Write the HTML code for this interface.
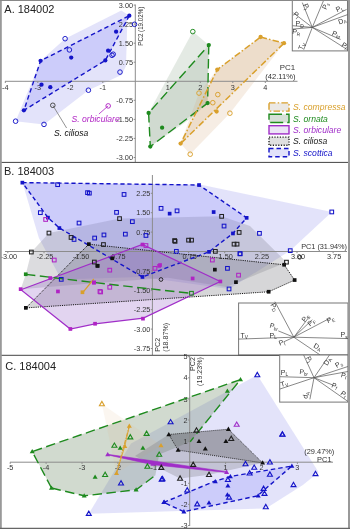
<!DOCTYPE html>
<html><head><meta charset="utf-8"><style>
html,body{margin:0;padding:0;background:#fff;width:350px;height:529px;overflow:hidden}
svg{display:block;will-change:transform}
text{font-family:"Liberation Sans",sans-serif}
</style></head><body>
<svg width="350" height="529" viewBox="0 0 350 529">
<rect x="0" y="0" width="350" height="529" fill="#fff"/>
<polygon points="121.3,10.5 127.5,14.5 126.0,66.0 121.5,75.0 88.4,90.2 44.0,124.4 15.6,121.2 40.6,60.8 65.1,38.7" fill="rgb(140,140,235)" stroke="none" stroke-width="1.2" fill-opacity="0.24" />
<polygon points="129.3,15.7 105.3,60.4 23.9,110.3 40.6,60.8" fill="rgb(135,135,250)" stroke="none" stroke-width="1.2" fill-opacity="0.25" />
<polygon points="192.8,31.6 208.8,45.1 207.6,103.1 193.0,117.0 150.3,146.6 148.6,113.0" fill="rgb(142,167,142)" stroke="none" stroke-width="1.2" fill-opacity="0.24" />
<polygon points="208.8,45.1 207.6,103.1 150.3,146.6 148.6,113.0" fill="rgb(130,156,130)" stroke="none" stroke-width="1.2" fill-opacity="0.2" />
<polygon points="260.6,37.0 284.0,43.2 229.9,113.2 190.2,154.2 180.6,143.6 199.0,93.1 217.3,69.6" fill="rgb(215,175,130)" stroke="none" stroke-width="1.2" fill-opacity="0.22" />
<polygon points="260.6,37.0 284.0,43.2 180.6,143.6 217.3,69.6" fill="rgb(205,165,115)" stroke="none" stroke-width="1.2" fill-opacity="0.22" />
<line x1="5.0" y1="81.3" x2="297.5" y2="81.3" stroke="#8c8c8c" stroke-width="1"/>
<line x1="135.3" y1="4.5" x2="135.3" y2="162.0" stroke="#8c8c8c" stroke-width="1"/>
<line x1="5.3" y1="81.3" x2="5.3" y2="83.0" stroke="#8c8c8c" stroke-width="1"/>
<text x="5.3" y="89.7" font-size="7.3" fill="#333" text-anchor="middle" >-4</text>
<line x1="37.8" y1="81.3" x2="37.8" y2="83.0" stroke="#8c8c8c" stroke-width="1"/>
<text x="37.8" y="89.7" font-size="7.3" fill="#333" text-anchor="middle" >-3</text>
<line x1="70.3" y1="81.3" x2="70.3" y2="83.0" stroke="#8c8c8c" stroke-width="1"/>
<text x="70.3" y="89.7" font-size="7.3" fill="#333" text-anchor="middle" >-2</text>
<line x1="102.8" y1="81.3" x2="102.8" y2="83.0" stroke="#8c8c8c" stroke-width="1"/>
<text x="102.8" y="89.7" font-size="7.3" fill="#333" text-anchor="middle" >-1</text>
<line x1="167.8" y1="81.3" x2="167.8" y2="83.0" stroke="#8c8c8c" stroke-width="1"/>
<text x="167.8" y="89.7" font-size="7.3" fill="#333" text-anchor="middle" >1</text>
<line x1="200.3" y1="81.3" x2="200.3" y2="83.0" stroke="#8c8c8c" stroke-width="1"/>
<text x="200.3" y="89.7" font-size="7.3" fill="#333" text-anchor="middle" >2</text>
<line x1="232.8" y1="81.3" x2="232.8" y2="83.0" stroke="#8c8c8c" stroke-width="1"/>
<text x="232.8" y="89.7" font-size="7.3" fill="#333" text-anchor="middle" >3</text>
<line x1="265.3" y1="81.3" x2="265.3" y2="83.0" stroke="#8c8c8c" stroke-width="1"/>
<text x="265.3" y="89.7" font-size="7.3" fill="#333" text-anchor="middle" >4</text>
<line x1="133.7" y1="5.1" x2="135.3" y2="5.1" stroke="#8c8c8c" stroke-width="1"/>
<text x="133.0" y="7.7" font-size="7.3" fill="#333" text-anchor="end" >3.00</text>
<line x1="133.7" y1="24.1" x2="135.3" y2="24.1" stroke="#8c8c8c" stroke-width="1"/>
<text x="133.0" y="26.7" font-size="7.3" fill="#333" text-anchor="end" >2.25</text>
<line x1="133.7" y1="43.2" x2="135.3" y2="43.2" stroke="#8c8c8c" stroke-width="1"/>
<text x="133.0" y="45.8" font-size="7.3" fill="#333" text-anchor="end" >1.50</text>
<line x1="133.7" y1="62.2" x2="135.3" y2="62.2" stroke="#8c8c8c" stroke-width="1"/>
<text x="133.0" y="64.8" font-size="7.3" fill="#333" text-anchor="end" >0.75</text>
<line x1="133.7" y1="100.3" x2="135.3" y2="100.3" stroke="#8c8c8c" stroke-width="1"/>
<text x="133.0" y="102.9" font-size="7.3" fill="#333" text-anchor="end" >-0.75</text>
<line x1="133.7" y1="119.4" x2="135.3" y2="119.4" stroke="#8c8c8c" stroke-width="1"/>
<text x="133.0" y="122.0" font-size="7.3" fill="#333" text-anchor="end" >-1.50</text>
<line x1="133.7" y1="138.4" x2="135.3" y2="138.4" stroke="#8c8c8c" stroke-width="1"/>
<text x="133.0" y="141.0" font-size="7.3" fill="#333" text-anchor="end" >-2.25</text>
<line x1="133.7" y1="157.5" x2="135.3" y2="157.5" stroke="#8c8c8c" stroke-width="1"/>
<text x="133.0" y="160.1" font-size="7.3" fill="#333" text-anchor="end" >-3.00</text>
<polygon points="129.3,15.7 105.3,60.4 23.9,110.3 40.6,60.8" fill="none" stroke="#1414c8" stroke-width="1.4" stroke-dasharray="4.5,3" />
<polygon points="208.8,45.1 207.6,103.1 150.3,146.6 148.6,113.0" fill="none" stroke="#1e8a1e" stroke-width="1.4" stroke-dasharray="9.5,4.5" />
<polygon points="260.6,37.0 284.0,43.2 180.6,143.6 217.3,69.6" fill="none" stroke="#d9a02c" stroke-width="1.5" stroke-dasharray="6.5,2.2,1.5,2.2" />
<circle cx="40.6" cy="60.8" r="2.15" fill="#1414c8"/>
<circle cx="71.2" cy="57.6" r="2.15" fill="#1414c8"/>
<circle cx="41.5" cy="84.7" r="2.15" fill="#1414c8"/>
<circle cx="50.3" cy="87.2" r="2.15" fill="#1414c8"/>
<circle cx="23.9" cy="110.3" r="2.15" fill="#1414c8"/>
<circle cx="129.3" cy="15.7" r="2.15" fill="#1414c8"/>
<circle cx="116.1" cy="31.7" r="2.15" fill="#1414c8"/>
<circle cx="108.1" cy="50.7" r="2.15" fill="#1414c8"/>
<circle cx="105.3" cy="60.4" r="2.15" fill="#1414c8"/>
<circle cx="65.1" cy="38.7" r="2.3" fill="none" stroke="#1414c8" stroke-width="0.95"/>
<circle cx="69.4" cy="49.9" r="2.3" fill="none" stroke="#1414c8" stroke-width="0.95"/>
<circle cx="88.4" cy="90.2" r="2.3" fill="none" stroke="#1414c8" stroke-width="0.95"/>
<circle cx="112.0" cy="55.3" r="2.3" fill="none" stroke="#1414c8" stroke-width="0.95"/>
<circle cx="113.2" cy="54.2" r="2.3" fill="none" stroke="#1414c8" stroke-width="0.95"/>
<circle cx="120.0" cy="72.1" r="2.3" fill="none" stroke="#1414c8" stroke-width="0.95"/>
<circle cx="134.5" cy="24.3" r="2.3" fill="none" stroke="#1414c8" stroke-width="0.95"/>
<circle cx="15.6" cy="121.2" r="2.3" fill="none" stroke="#1414c8" stroke-width="0.95"/>
<circle cx="44.0" cy="124.4" r="2.3" fill="none" stroke="#1414c8" stroke-width="0.95"/>
<circle cx="208.8" cy="45.1" r="2.15" fill="#1e8a1e"/>
<circle cx="207.6" cy="103.1" r="2.15" fill="#1e8a1e"/>
<circle cx="148.6" cy="113.0" r="2.15" fill="#1e8a1e"/>
<circle cx="162.1" cy="127.7" r="2.15" fill="#1e8a1e"/>
<circle cx="150.3" cy="146.6" r="2.15" fill="#1e8a1e"/>
<circle cx="192.8" cy="31.6" r="2.3" fill="none" stroke="#1e8a1e" stroke-width="0.95"/>
<circle cx="260.6" cy="37.0" r="2.15" fill="#d9a02c"/>
<circle cx="284.0" cy="43.2" r="2.15" fill="#d9a02c"/>
<circle cx="217.3" cy="69.6" r="2.15" fill="#d9a02c"/>
<circle cx="216.6" cy="111.5" r="2.15" fill="#d9a02c"/>
<circle cx="180.6" cy="143.6" r="2.15" fill="#d9a02c"/>
<circle cx="199.0" cy="93.1" r="2.3" fill="none" stroke="#d9a02c" stroke-width="0.95"/>
<circle cx="217.8" cy="94.6" r="2.3" fill="none" stroke="#d9a02c" stroke-width="0.95"/>
<circle cx="212.8" cy="102.7" r="2.3" fill="none" stroke="#d9a02c" stroke-width="0.95"/>
<circle cx="229.9" cy="113.2" r="2.3" fill="none" stroke="#d9a02c" stroke-width="0.95"/>
<circle cx="190.2" cy="154.2" r="2.3" fill="none" stroke="#d9a02c" stroke-width="0.95"/>
<line x1="52.8" y1="105.3" x2="66.6" y2="128.0" stroke="#777" stroke-width="0.8"/>
<circle cx="52.8" cy="105.3" r="2.3" fill="none" stroke="#444" stroke-width="0.95"/>
<line x1="108.2" y1="105.9" x2="98.9" y2="114.0" stroke="#b024c4" stroke-width="0.8"/>
<circle cx="108.2" cy="105.9" r="2.3" fill="none" stroke="#b024c4" stroke-width="0.95"/>
<text x="54.0" y="136.0" font-size="8.6" fill="#111" text-anchor="start" font-style="italic" >S. ciliosa</text>
<text x="71.5" y="122.3" font-size="8.6" fill="#b024c4" text-anchor="start" font-style="italic" >S. orbiculare</text>
<text x="4.3" y="12.9" font-size="11" fill="#222" text-anchor="start" >A. 184002</text>
<text x="295.2" y="70.4" font-size="7.9" fill="#333" text-anchor="end" >PC1</text>
<text x="295.5" y="78.6" font-size="7.6" fill="#333" text-anchor="end" >(42.11%)</text>
<text transform="translate(143.2,45.7) rotate(-90)" font-size="6.4" fill="#333" textLength="39" lengthAdjust="spacingAndGlyphs">PC2 (19.02%)</text>
<rect x="269" y="102.9" width="20" height="8.2" fill="#ebe8e4" stroke="#d9a02c" stroke-width="1.4" stroke-dasharray="6.5,2.2,1.5,2.2"/>
<text x="293.0" y="110.2" font-size="8.6" fill="#d9a02c" text-anchor="start" font-style="italic" >S. compressa</text>
<rect x="269" y="114.3" width="20" height="8.2" fill="#d6e0d6" stroke="#1e8a1e" stroke-width="1.4" stroke-dasharray="13,4"/>
<text x="293.0" y="121.6" font-size="8.6" fill="#1e8a1e" text-anchor="start" font-style="italic" >S. ornata</text>
<rect x="269" y="125.7" width="20" height="8.2" fill="#ece4f6" stroke="#a02ec8" stroke-width="1.4"/>
<text x="293.0" y="133.0" font-size="8.6" fill="#a02ec8" text-anchor="start" font-style="italic" >S. orbiculare</text>
<rect x="269" y="137.1" width="20" height="8.2" fill="#e0e0e0" stroke="#222" stroke-width="1.4" stroke-dasharray="1.2,1.5"/>
<text x="293.0" y="144.4" font-size="8.6" fill="#222" text-anchor="start" font-style="italic" >S. ciliosa</text>
<rect x="269" y="148.5" width="20" height="8.2" fill="#e2e2fa" stroke="#1414c8" stroke-width="1.4" stroke-dasharray="4.5,3"/>
<text x="293.0" y="155.8" font-size="8.6" fill="#1414c8" text-anchor="start" font-style="italic" >S. scottica</text>
<rect x="292.3" y="0.5" width="55.2" height="50.4" fill="#fff" stroke="#777" stroke-width="1"/>
<line x1="312.3" y1="27.4" x2="302.3" y2="2.6" stroke="#555" stroke-width="0.7"/>
<line x1="312.3" y1="27.4" x2="323.4" y2="0.9" stroke="#555" stroke-width="0.7"/>
<line x1="312.3" y1="27.4" x2="346.6" y2="9.4" stroke="#555" stroke-width="0.7"/>
<line x1="312.3" y1="27.4" x2="347.6" y2="14.6" stroke="#555" stroke-width="0.7"/>
<line x1="312.3" y1="27.4" x2="293.4" y2="12.9" stroke="#555" stroke-width="0.7"/>
<line x1="312.3" y1="27.4" x2="292.6" y2="25.7" stroke="#555" stroke-width="0.7"/>
<line x1="312.3" y1="27.4" x2="292.6" y2="29.1" stroke="#555" stroke-width="0.7"/>
<line x1="312.3" y1="27.4" x2="303.7" y2="49.7" stroke="#555" stroke-width="0.7"/>
<line x1="312.3" y1="27.4" x2="340.6" y2="39.4" stroke="#555" stroke-width="0.7"/>
<line x1="312.3" y1="27.4" x2="347.4" y2="49.7" stroke="#555" stroke-width="0.7"/>
<text transform="translate(306.0,6.5) rotate(68)" font-size="7" fill="#333" text-anchor="middle" dy="2.2">P<tspan font-size="4.8" dy="1.2">l</tspan></text>
<text transform="translate(325.6,5.8) rotate(-66)" font-size="7" fill="#333" text-anchor="middle" dy="2.2">P<tspan font-size="4.8" dy="1.2">s</tspan></text>
<text transform="translate(339.5,8.6) rotate(-27)" font-size="7" fill="#333" text-anchor="middle" dy="2.2">P<tspan font-size="4.8" dy="1.2">L</tspan></text>
<text transform="translate(342.3,20.9) rotate(-20)" font-size="7" fill="#333" text-anchor="middle" dy="2.2">D<tspan font-size="4.8" dy="1.2">A</tspan></text>
<text transform="translate(296.6,15.2) rotate(40)" font-size="7" fill="#333" text-anchor="middle" dy="2.2">P<tspan font-size="4.8" dy="1.2">r</tspan></text>
<text transform="translate(299.6,24.2) rotate(0)" font-size="7" fill="#333" text-anchor="middle" dy="2.2">P<tspan font-size="4.8" dy="1.2">D</tspan></text>
<text transform="translate(296.4,32.2) rotate(8)" font-size="7" fill="#333" text-anchor="middle" dy="2.2">P<tspan font-size="4.8" dy="1.2">R</tspan></text>
<text transform="translate(301.9,46.2) rotate(-68)" font-size="7" fill="#333" text-anchor="middle" dy="2.2">T<tspan font-size="4.8" dy="1.2">V</tspan></text>
<text transform="translate(336.4,34.5) rotate(22)" font-size="7" fill="#333" text-anchor="middle" dy="2.2">P<tspan font-size="4.8" dy="1.2">bt</tspan></text>
<text transform="translate(344.6,45.6) rotate(32)" font-size="7" fill="#333" text-anchor="middle" dy="2.2">P<tspan font-size="4.8" dy="1.2">l</tspan></text>
<line x1="0.0" y1="162.4" x2="348.0" y2="162.4" stroke="#444" stroke-width="1"/>
<polygon points="22.4,182.6 200.0,184.6 331.8,211.9 290.3,250.6 229.1,289.0 142.4,277.0 61.3,279.4 38.9,238.0" fill="rgb(140,140,235)" stroke="none" stroke-width="1.2" fill-opacity="0.24" />
<polygon points="31.4,252.0 49.0,233.0 119.5,218.6 221.6,216.3 250.0,226.0 286.5,262.2 226.0,287.0 168.0,277.7 97.0,283.0 20.7,289.2 25.8,274.3" fill="rgb(110,110,120)" stroke="none" stroke-width="1.2" fill-opacity="0.24" />
<polygon points="22.4,182.6 199.0,185.0 246.7,217.8 232.9,233.4 209.0,251.8 142.4,277.0 59.4,228.0 48.0,217.6" fill="rgb(135,135,250)" stroke="none" stroke-width="1.2" fill-opacity="0.25" />
<polygon points="25.9,307.9 88.8,244.2 284.2,264.8 294.6,280.1 268.6,291.8" fill="rgb(120,120,125)" stroke="none" stroke-width="1.2" fill-opacity="0.3" />
<polygon points="20.9,289.8 142.4,244.5 220.3,281.5 143.3,318.1 95.0,323.8 70.3,329.0" fill="rgb(150,100,200)" stroke="none" stroke-width="1.2" fill-opacity="0.28" />
<line x1="5.0" y1="251.5" x2="347.0" y2="251.5" stroke="#8c8c8c" stroke-width="1"/>
<line x1="152.4" y1="175.0" x2="152.4" y2="355.0" stroke="#8c8c8c" stroke-width="1"/>
<line x1="7.8" y1="251.5" x2="7.8" y2="253.2" stroke="#8c8c8c" stroke-width="1"/>
<text x="8.8" y="259.2" font-size="7.3" fill="#333" text-anchor="middle" >-3.00</text>
<line x1="44.0" y1="251.5" x2="44.0" y2="253.2" stroke="#8c8c8c" stroke-width="1"/>
<text x="45.0" y="259.2" font-size="7.3" fill="#333" text-anchor="middle" >-2.25</text>
<line x1="80.1" y1="251.5" x2="80.1" y2="253.2" stroke="#8c8c8c" stroke-width="1"/>
<text x="81.1" y="259.2" font-size="7.3" fill="#333" text-anchor="middle" >-1.50</text>
<line x1="116.2" y1="251.5" x2="116.2" y2="253.2" stroke="#8c8c8c" stroke-width="1"/>
<text x="117.2" y="259.2" font-size="7.3" fill="#333" text-anchor="middle" >-0.75</text>
<line x1="188.6" y1="251.5" x2="188.6" y2="253.2" stroke="#8c8c8c" stroke-width="1"/>
<text x="189.6" y="259.2" font-size="7.3" fill="#333" text-anchor="middle" >0.75</text>
<line x1="224.7" y1="251.5" x2="224.7" y2="253.2" stroke="#8c8c8c" stroke-width="1"/>
<text x="225.7" y="259.2" font-size="7.3" fill="#333" text-anchor="middle" >1.50</text>
<line x1="260.9" y1="251.5" x2="260.9" y2="253.2" stroke="#8c8c8c" stroke-width="1"/>
<text x="261.9" y="259.2" font-size="7.3" fill="#333" text-anchor="middle" >2.25</text>
<line x1="297.0" y1="251.5" x2="297.0" y2="253.2" stroke="#8c8c8c" stroke-width="1"/>
<text x="298.0" y="259.2" font-size="7.3" fill="#333" text-anchor="middle" >3.00</text>
<line x1="333.1" y1="251.5" x2="333.1" y2="253.2" stroke="#8c8c8c" stroke-width="1"/>
<text x="334.1" y="259.2" font-size="7.3" fill="#333" text-anchor="middle" >3.75</text>
<line x1="150.8" y1="193.3" x2="152.4" y2="193.3" stroke="#8c8c8c" stroke-width="1"/>
<text x="150.4" y="195.9" font-size="7.3" fill="#333" text-anchor="end" >2.25</text>
<line x1="150.8" y1="212.7" x2="152.4" y2="212.7" stroke="#8c8c8c" stroke-width="1"/>
<text x="150.4" y="215.3" font-size="7.3" fill="#333" text-anchor="end" >1.50</text>
<line x1="150.8" y1="232.1" x2="152.4" y2="232.1" stroke="#8c8c8c" stroke-width="1"/>
<text x="150.4" y="234.7" font-size="7.3" fill="#333" text-anchor="end" >0.75</text>
<line x1="150.8" y1="270.9" x2="152.4" y2="270.9" stroke="#8c8c8c" stroke-width="1"/>
<text x="150.4" y="273.5" font-size="7.3" fill="#333" text-anchor="end" >-0.75</text>
<line x1="150.8" y1="290.3" x2="152.4" y2="290.3" stroke="#8c8c8c" stroke-width="1"/>
<text x="150.4" y="292.9" font-size="7.3" fill="#333" text-anchor="end" >-1.50</text>
<line x1="150.8" y1="309.7" x2="152.4" y2="309.7" stroke="#8c8c8c" stroke-width="1"/>
<text x="150.4" y="312.3" font-size="7.3" fill="#333" text-anchor="end" >-2.25</text>
<line x1="150.8" y1="329.1" x2="152.4" y2="329.1" stroke="#8c8c8c" stroke-width="1"/>
<text x="150.4" y="331.7" font-size="7.3" fill="#333" text-anchor="end" >-3.00</text>
<line x1="150.8" y1="348.5" x2="152.4" y2="348.5" stroke="#8c8c8c" stroke-width="1"/>
<text x="150.4" y="351.1" font-size="7.3" fill="#333" text-anchor="end" >-3.75</text>
<text x="347.0" y="248.8" font-size="7.3" fill="#333" text-anchor="end" >PC1 (31.94%)</text>
<text transform="translate(159.6,351.7) rotate(-90)" font-size="7.1" fill="#333">PC2</text>
<text transform="translate(167.6,351.7) rotate(-90)" font-size="7.1" fill="#333">(18.87%)</text>
<polygon points="22.4,182.6 199.0,185.0 246.7,217.8 232.9,233.4 209.0,251.8 142.4,277.0 59.4,228.0 48.0,217.6" fill="none" stroke="#1414c8" stroke-width="1.4" stroke-dasharray="4.2,2.8" />
<polygon points="25.9,307.9 88.8,244.2 284.2,264.8 294.6,280.1 268.6,291.8" fill="none" stroke="#111" stroke-width="1.0" stroke-dasharray="1.1,1.1" />
<polygon points="20.9,289.8 142.4,244.5 220.3,281.5 143.3,318.1 95.0,323.8 70.3,329.0" fill="none" stroke="#a02ec8" stroke-width="1.2" />
<polyline points="25.9,274.4 117.7,285.3 191.4,293.3" fill="none" stroke="#1e8a1e" stroke-width="1.4" stroke-dasharray="9.5,4.5"/>
<polyline points="82.5,292.8 93.8,279.0" fill="none" stroke="#d9a02c" stroke-width="1.2"/>
<rect x="20.5" y="180.8" width="3.7" height="3.7" fill="#1414c8"/>
<rect x="46.1" y="215.8" width="3.7" height="3.7" fill="#1414c8"/>
<rect x="57.5" y="226.2" width="3.7" height="3.7" fill="#1414c8"/>
<rect x="197.2" y="183.2" width="3.7" height="3.7" fill="#1414c8"/>
<rect x="167.8" y="211.8" width="3.7" height="3.7" fill="#1414c8"/>
<rect x="211.8" y="210.2" width="3.7" height="3.7" fill="#1414c8"/>
<rect x="244.8" y="216.0" width="3.7" height="3.7" fill="#1414c8"/>
<rect x="231.1" y="231.6" width="3.7" height="3.7" fill="#1414c8"/>
<rect x="207.2" y="250.0" width="3.7" height="3.7" fill="#1414c8"/>
<rect x="140.6" y="275.1" width="3.7" height="3.7" fill="#1414c8"/>
<rect x="55.8" y="182.8" width="3.7" height="3.7" fill="none" stroke="#1414c8" stroke-width="1.05"/>
<rect x="38.5" y="210.8" width="3.7" height="3.7" fill="none" stroke="#1414c8" stroke-width="1.05"/>
<rect x="77.2" y="221.2" width="3.7" height="3.7" fill="none" stroke="#1414c8" stroke-width="1.05"/>
<rect x="72.2" y="237.6" width="3.7" height="3.7" fill="none" stroke="#1414c8" stroke-width="1.05"/>
<rect x="87.5" y="191.3" width="3.7" height="3.7" fill="none" stroke="#1414c8" stroke-width="1.05"/>
<rect x="122.2" y="192.6" width="3.7" height="3.7" fill="none" stroke="#1414c8" stroke-width="1.05"/>
<rect x="114.7" y="210.5" width="3.7" height="3.7" fill="none" stroke="#1414c8" stroke-width="1.05"/>
<rect x="130.5" y="219.8" width="3.7" height="3.7" fill="none" stroke="#1414c8" stroke-width="1.05"/>
<rect x="92.8" y="236.2" width="3.7" height="3.7" fill="none" stroke="#1414c8" stroke-width="1.05"/>
<rect x="102.1" y="233.1" width="3.7" height="3.7" fill="none" stroke="#1414c8" stroke-width="1.05"/>
<rect x="123.5" y="232.3" width="3.7" height="3.7" fill="none" stroke="#1414c8" stroke-width="1.05"/>
<rect x="144.1" y="233.6" width="3.7" height="3.7" fill="none" stroke="#1414c8" stroke-width="1.05"/>
<rect x="159.2" y="206.5" width="3.7" height="3.7" fill="none" stroke="#1414c8" stroke-width="1.05"/>
<rect x="175.2" y="209.0" width="3.7" height="3.7" fill="none" stroke="#1414c8" stroke-width="1.05"/>
<rect x="222.2" y="224.2" width="3.7" height="3.7" fill="none" stroke="#1414c8" stroke-width="1.05"/>
<rect x="329.9" y="210.1" width="3.7" height="3.7" fill="none" stroke="#1414c8" stroke-width="1.05"/>
<rect x="257.6" y="231.5" width="3.7" height="3.7" fill="none" stroke="#1414c8" stroke-width="1.05"/>
<rect x="288.4" y="248.8" width="3.7" height="3.7" fill="none" stroke="#1414c8" stroke-width="1.05"/>
<rect x="238.2" y="251.8" width="3.7" height="3.7" fill="none" stroke="#1414c8" stroke-width="1.05"/>
<rect x="174.5" y="249.5" width="3.7" height="3.7" fill="none" stroke="#1414c8" stroke-width="1.05"/>
<rect x="238.2" y="252.0" width="3.7" height="3.7" fill="none" stroke="#1414c8" stroke-width="1.05"/>
<rect x="225.6" y="266.5" width="3.7" height="3.7" fill="none" stroke="#1414c8" stroke-width="1.05"/>
<rect x="227.2" y="287.1" width="3.7" height="3.7" fill="none" stroke="#1414c8" stroke-width="1.05"/>
<rect x="59.4" y="277.5" width="3.7" height="3.7" fill="none" stroke="#1414c8" stroke-width="1.05"/>
<rect x="85.7" y="190.8" width="3.7" height="3.7" fill="none" stroke="#1414c8" stroke-width="1.05"/>
<rect x="87.0" y="242.3" width="3.7" height="3.7" fill="#111"/>
<rect x="95.8" y="264.0" width="3.7" height="3.7" fill="#111"/>
<rect x="110.4" y="256.5" width="3.7" height="3.7" fill="#111"/>
<rect x="24.0" y="306.0" width="3.7" height="3.7" fill="#111"/>
<rect x="95.5" y="263.9" width="3.7" height="3.7" fill="#111"/>
<rect x="213.0" y="267.8" width="3.7" height="3.7" fill="#111"/>
<rect x="234.1" y="280.3" width="3.7" height="3.7" fill="#111"/>
<rect x="282.3" y="262.9" width="3.7" height="3.7" fill="#111"/>
<rect x="292.8" y="278.2" width="3.7" height="3.7" fill="#111"/>
<rect x="266.8" y="289.9" width="3.7" height="3.7" fill="#111"/>
<rect x="47.1" y="231.2" width="3.7" height="3.7" fill="none" stroke="#222" stroke-width="1.05"/>
<rect x="69.2" y="235.6" width="3.7" height="3.7" fill="none" stroke="#222" stroke-width="1.05"/>
<rect x="29.5" y="250.2" width="3.7" height="3.7" fill="none" stroke="#222" stroke-width="1.05"/>
<rect x="101.6" y="242.7" width="3.7" height="3.7" fill="none" stroke="#222" stroke-width="1.05"/>
<rect x="92.5" y="260.2" width="3.7" height="3.7" fill="none" stroke="#222" stroke-width="1.05"/>
<rect x="117.7" y="216.8" width="3.7" height="3.7" fill="none" stroke="#222" stroke-width="1.05"/>
<rect x="219.8" y="214.5" width="3.7" height="3.7" fill="none" stroke="#222" stroke-width="1.05"/>
<rect x="172.8" y="238.7" width="3.7" height="3.7" fill="none" stroke="#222" stroke-width="1.05"/>
<rect x="186.7" y="238.3" width="3.7" height="3.7" fill="none" stroke="#222" stroke-width="1.05"/>
<rect x="189.7" y="238.3" width="3.7" height="3.7" fill="none" stroke="#222" stroke-width="1.05"/>
<rect x="237.3" y="230.6" width="3.7" height="3.7" fill="none" stroke="#222" stroke-width="1.05"/>
<rect x="232.2" y="242.3" width="3.7" height="3.7" fill="none" stroke="#222" stroke-width="1.05"/>
<rect x="235.2" y="242.3" width="3.7" height="3.7" fill="none" stroke="#222" stroke-width="1.05"/>
<rect x="213.5" y="249.5" width="3.7" height="3.7" fill="none" stroke="#222" stroke-width="1.05"/>
<rect x="173.2" y="239.5" width="3.7" height="3.7" fill="none" stroke="#222" stroke-width="1.05"/>
<rect x="284.6" y="260.3" width="3.7" height="3.7" fill="none" stroke="#222" stroke-width="1.05"/>
<rect x="140.6" y="242.7" width="3.7" height="3.7" fill="#b024c4"/>
<rect x="157.3" y="264.0" width="3.7" height="3.7" fill="#b024c4"/>
<rect x="92.0" y="280.8" width="3.7" height="3.7" fill="#b024c4"/>
<rect x="141.1" y="316.8" width="3.7" height="3.7" fill="#b024c4"/>
<rect x="93.2" y="321.9" width="3.7" height="3.7" fill="#b024c4"/>
<rect x="48.4" y="276.2" width="3.7" height="3.7" fill="#b024c4"/>
<rect x="18.8" y="287.3" width="3.7" height="3.7" fill="#b024c4"/>
<rect x="56.1" y="289.6" width="3.7" height="3.7" fill="#b024c4"/>
<rect x="92.2" y="280.6" width="3.7" height="3.7" fill="#b024c4"/>
<rect x="190.8" y="276.6" width="3.7" height="3.7" fill="#b024c4"/>
<rect x="218.5" y="279.6" width="3.7" height="3.7" fill="#b024c4"/>
<rect x="158.2" y="263.2" width="3.7" height="3.7" fill="#b024c4"/>
<rect x="68.5" y="327.1" width="3.7" height="3.7" fill="#b024c4"/>
<rect x="43.8" y="217.6" width="3.7" height="3.7" fill="none" stroke="#b024c4" stroke-width="1.05"/>
<rect x="52.4" y="258.2" width="3.7" height="3.7" fill="none" stroke="#b024c4" stroke-width="1.05"/>
<rect x="98.1" y="289.6" width="3.7" height="3.7" fill="none" stroke="#b024c4" stroke-width="1.05"/>
<rect x="107.9" y="268.3" width="3.7" height="3.7" fill="none" stroke="#b024c4" stroke-width="1.05"/>
<rect x="98.8" y="290.1" width="3.7" height="3.7" fill="none" stroke="#b024c4" stroke-width="1.05"/>
<rect x="107.9" y="285.4" width="3.7" height="3.7" fill="none" stroke="#b024c4" stroke-width="1.05"/>
<rect x="144.1" y="243.7" width="3.7" height="3.7" fill="none" stroke="#b024c4" stroke-width="1.05"/>
<rect x="153.1" y="266.5" width="3.7" height="3.7" fill="none" stroke="#b024c4" stroke-width="1.05"/>
<rect x="210.5" y="258.2" width="3.7" height="3.7" fill="none" stroke="#b024c4" stroke-width="1.05"/>
<rect x="236.7" y="273.3" width="3.7" height="3.7" fill="none" stroke="#b024c4" stroke-width="1.05"/>
<rect x="23.9" y="272.4" width="3.7" height="3.7" fill="#1e8a1e"/>
<rect x="189.6" y="291.4" width="3.7" height="3.7" fill="none" stroke="#1e8a1e" stroke-width="1.05"/>
<rect x="80.6" y="290.4" width="3.7" height="3.7" fill="#d9a02c"/>
<circle cx="161.0" cy="279.5" r="1.8499999999999999" fill="none" stroke="#222" stroke-width="0.95"/>
<circle cx="299.7" cy="257.3" r="1.8499999999999999" fill="none" stroke="#222" stroke-width="0.95"/>
<text x="4.0" y="175.2" font-size="11" fill="#222" text-anchor="start" >B. 184003</text>
<rect x="238.6" y="303" width="109.4" height="52" fill="#fff" stroke="#777" stroke-width="1"/>
<line x1="293.8" y1="337.2" x2="274.9" y2="301.7" stroke="#555" stroke-width="0.7"/>
<line x1="293.8" y1="337.2" x2="308.9" y2="317.2" stroke="#555" stroke-width="0.7"/>
<line x1="293.8" y1="337.2" x2="312.3" y2="319.7" stroke="#555" stroke-width="0.7"/>
<line x1="293.8" y1="337.2" x2="330.3" y2="318.0" stroke="#555" stroke-width="0.7"/>
<line x1="293.8" y1="337.2" x2="348.0" y2="338.6" stroke="#555" stroke-width="0.7"/>
<line x1="293.8" y1="337.2" x2="238.6" y2="339.1" stroke="#555" stroke-width="0.7"/>
<line x1="293.8" y1="337.2" x2="278.3" y2="330.9" stroke="#555" stroke-width="0.7"/>
<line x1="293.8" y1="337.2" x2="320.0" y2="354.9" stroke="#555" stroke-width="0.7"/>
<line x1="293.8" y1="337.2" x2="283.4" y2="342.0" stroke="#555" stroke-width="0.7"/>
<text transform="translate(274.2,307.2) rotate(62)" font-size="7" fill="#333" text-anchor="middle" dy="2.2">P<tspan font-size="4.8" dy="1.2">D</tspan></text>
<text transform="translate(305.6,318.0) rotate(-50)" font-size="7" fill="#333" text-anchor="middle" dy="2.2">P<tspan font-size="4.8" dy="1.2">S</tspan></text>
<text transform="translate(311.6,322.4) rotate(-40)" font-size="7" fill="#333" text-anchor="middle" dy="2.2">P<tspan font-size="4.8" dy="1.2">F</tspan></text>
<text transform="translate(330.6,319.6) rotate(-25)" font-size="7" fill="#333" text-anchor="middle" dy="2.2">P<tspan font-size="4.8" dy="1.2">E</tspan></text>
<text transform="translate(344.0,335.2) rotate(0)" font-size="7" fill="#333" text-anchor="middle" dy="2.2">P<tspan font-size="4.8" dy="1.2">s</tspan></text>
<text transform="translate(244.2,336.0) rotate(0)" font-size="7" fill="#333" text-anchor="middle" dy="2.2">T<tspan font-size="4.8" dy="1.2">V</tspan></text>
<text transform="translate(273.2,336.0) rotate(0)" font-size="7" fill="#333" text-anchor="middle" dy="2.2">P<tspan font-size="4.8" dy="1.2">L</tspan></text>
<text transform="translate(274.2,326.6) rotate(15)" font-size="7" fill="#333" text-anchor="middle" dy="2.2">P<tspan font-size="4.8" dy="1.2">br</tspan></text>
<text transform="translate(281.8,342.8) rotate(-20)" font-size="7" fill="#333" text-anchor="middle" dy="2.2">P<tspan font-size="4.8" dy="1.2">l</tspan></text>
<text transform="translate(317.6,347.2) rotate(30)" font-size="7" fill="#333" text-anchor="middle" dy="2.2">D<tspan font-size="4.8" dy="1.2">A</tspan></text>
<line x1="0.0" y1="355.3" x2="348.0" y2="355.3" stroke="#444" stroke-width="1"/>
<polygon points="257.3,375.0 318.6,472.3 302.9,484.9 265.8,508.5 88.8,513.7 131.0,443.6" fill="rgb(140,140,235)" stroke="none" stroke-width="1.2" fill-opacity="0.24" />
<polygon points="32.2,451.6 240.5,379.6 190.2,441.7 159.2,454.6 155.4,475.3 136.1,489.8 84.2,495.8 51.5,488.0" fill="rgb(102,132,95)" stroke="none" stroke-width="1.2" fill-opacity="0.3" />
<polygon points="101.9,404.0 161.3,445.3 116.5,473.2" fill="rgb(225,185,140)" stroke="none" stroke-width="1.2" fill-opacity="0.13" />
<polygon points="135.0,456.0 168.8,434.5 228.4,429.2 262.6,462.9 209.0,474.8 180.1,478.5" fill="rgb(110,110,120)" stroke="none" stroke-width="1.2" fill-opacity="0.28" />
<polygon points="168.8,434.5 228.4,429.2 262.6,462.9 178.1,450.1" fill="rgb(100,100,105)" stroke="none" stroke-width="1.2" fill-opacity="0.35" />
<polygon points="163.8,502.4 214.0,481.5 230.4,476.5 291.9,466.0 257.3,495.9 183.9,511.7" fill="rgb(135,135,250)" stroke="none" stroke-width="1.2" fill-opacity="0.25" />
<line x1="10.0" y1="462.2" x2="333.0" y2="462.2" stroke="#8c8c8c" stroke-width="1"/>
<line x1="189.7" y1="355.5" x2="189.7" y2="526.0" stroke="#8c8c8c" stroke-width="1"/>
<line x1="10.2" y1="462.2" x2="10.2" y2="463.9" stroke="#8c8c8c" stroke-width="1"/>
<text x="10.2" y="470.3" font-size="7.3" fill="#333" text-anchor="middle" >-5</text>
<line x1="46.1" y1="462.2" x2="46.1" y2="463.9" stroke="#8c8c8c" stroke-width="1"/>
<text x="46.1" y="470.3" font-size="7.3" fill="#333" text-anchor="middle" >-4</text>
<line x1="82.0" y1="462.2" x2="82.0" y2="463.9" stroke="#8c8c8c" stroke-width="1"/>
<text x="82.0" y="470.3" font-size="7.3" fill="#333" text-anchor="middle" >-3</text>
<line x1="117.9" y1="462.2" x2="117.9" y2="463.9" stroke="#8c8c8c" stroke-width="1"/>
<text x="117.9" y="470.3" font-size="7.3" fill="#333" text-anchor="middle" >-2</text>
<line x1="153.8" y1="462.2" x2="153.8" y2="463.9" stroke="#8c8c8c" stroke-width="1"/>
<text x="153.8" y="470.3" font-size="7.3" fill="#333" text-anchor="middle" >-1</text>
<line x1="225.6" y1="462.2" x2="225.6" y2="463.9" stroke="#8c8c8c" stroke-width="1"/>
<text x="225.6" y="470.3" font-size="7.3" fill="#333" text-anchor="middle" >1</text>
<line x1="261.5" y1="462.2" x2="261.5" y2="463.9" stroke="#8c8c8c" stroke-width="1"/>
<text x="261.5" y="470.3" font-size="7.3" fill="#333" text-anchor="middle" >2</text>
<line x1="297.4" y1="462.2" x2="297.4" y2="463.9" stroke="#8c8c8c" stroke-width="1"/>
<text x="297.4" y="470.3" font-size="7.3" fill="#333" text-anchor="middle" >3</text>
<line x1="188.1" y1="356.7" x2="189.7" y2="356.7" stroke="#8c8c8c" stroke-width="1"/>
<text x="187.5" y="359.3" font-size="7.3" fill="#333" text-anchor="end" >5</text>
<line x1="188.1" y1="377.8" x2="189.7" y2="377.8" stroke="#8c8c8c" stroke-width="1"/>
<text x="187.5" y="380.4" font-size="7.3" fill="#333" text-anchor="end" >4</text>
<line x1="188.1" y1="398.9" x2="189.7" y2="398.9" stroke="#8c8c8c" stroke-width="1"/>
<text x="187.5" y="401.5" font-size="7.3" fill="#333" text-anchor="end" >3</text>
<line x1="188.1" y1="420.0" x2="189.7" y2="420.0" stroke="#8c8c8c" stroke-width="1"/>
<text x="187.5" y="422.6" font-size="7.3" fill="#333" text-anchor="end" >2</text>
<line x1="188.1" y1="441.1" x2="189.7" y2="441.1" stroke="#8c8c8c" stroke-width="1"/>
<text x="187.5" y="443.7" font-size="7.3" fill="#333" text-anchor="end" >1</text>
<line x1="188.1" y1="483.3" x2="189.7" y2="483.3" stroke="#8c8c8c" stroke-width="1"/>
<text x="187.5" y="485.9" font-size="7.3" fill="#333" text-anchor="end" >-1</text>
<line x1="188.1" y1="504.4" x2="189.7" y2="504.4" stroke="#8c8c8c" stroke-width="1"/>
<text x="187.5" y="507.0" font-size="7.3" fill="#333" text-anchor="end" >-2</text>
<line x1="188.1" y1="525.5" x2="189.7" y2="525.5" stroke="#8c8c8c" stroke-width="1"/>
<text x="187.5" y="528.1" font-size="7.3" fill="#333" text-anchor="end" >-3</text>
<text transform="translate(195.3,357.1) rotate(-90)" font-size="7.1" fill="#333" text-anchor="end">PC2</text>
<text transform="translate(202.3,357.1) rotate(-90)" font-size="7.1" fill="#333" text-anchor="end">(19.23%)</text>
<text x="334.3" y="454.3" font-size="7.4" fill="#333" text-anchor="end" >(29.47%)</text>
<text x="331.5" y="461.6" font-size="7.4" fill="#333" text-anchor="end" >PC1</text>
<polygon points="32.2,451.6 240.5,379.6 227.4,391.0 190.2,441.7" fill="none" stroke="none" stroke-width="1.2" />
<polyline points="51.5,488.0 32.2,451.6 240.5,379.6 190.2,441.7" fill="none" stroke="#1e8a1e" stroke-width="1.4" stroke-dasharray="9.5,4.5"/>
<polyline points="51.5,488.0 84.2,495.8 136.1,489.8 155.4,475.3" fill="none" stroke="#1e8a1e" stroke-width="1.4" stroke-dasharray="9.5,4.5"/>
<polyline points="168.8,434.5 228.4,429.2 262.6,462.9 178.1,450.1 168.8,434.5" fill="none" stroke="#222" stroke-width="0.9" stroke-dasharray="1,1"/>
<polygon points="163.8,502.4 214.0,481.5 230.4,476.5 291.9,466.0 257.3,495.9 183.9,511.7" fill="none" stroke="#1414c8" stroke-width="1.4" stroke-dasharray="4.5,3" />
<polygon points="107.7,454.3 226.6,471.7 226.6,472.5 152.9,464.7 107.7,454.9" fill="#a02ec8" stroke="#a02ec8" stroke-width="0.6" />
<polyline points="116.5,473.2 129.3,426.1" fill="none" stroke="#d9a02c" stroke-width="1.1" stroke-dasharray="4,1.2,1.2,1.2"/>
<polyline points="116.5,473.2 124.8,446.3 129.3,426.1" fill="none" stroke="#d9a02c" stroke-width="0.8"/>
<polygon points="32.2,449.0 29.7,453.3 34.7,453.3" fill="#1e8a1e"/>
<polygon points="51.5,485.4 49.0,489.7 54.0,489.7" fill="#1e8a1e"/>
<polygon points="84.2,493.2 81.7,497.5 86.7,497.5" fill="#1e8a1e"/>
<polygon points="136.1,487.2 133.6,491.5 138.6,491.5" fill="#1e8a1e"/>
<polygon points="120.2,445.5 117.7,449.8 122.7,449.8" fill="#1e8a1e"/>
<polygon points="142.9,445.5 140.4,449.8 145.4,449.8" fill="#1e8a1e"/>
<polygon points="95.1,474.4 92.6,478.7 97.6,478.7" fill="#1e8a1e"/>
<polygon points="240.5,377.0 238.0,381.3 243.0,381.3" fill="#1e8a1e"/>
<polygon points="227.4,388.4 224.9,392.7 229.9,392.7" fill="#1e8a1e"/>
<polygon points="130.3,434.6 127.8,438.9 132.8,438.9" fill="none" stroke="#1e8a1e" stroke-width="1.1" stroke-linejoin="miter"/>
<polygon points="146.6,431.1 144.1,435.4 149.1,435.4" fill="none" stroke="#1e8a1e" stroke-width="1.1" stroke-linejoin="miter"/>
<polygon points="114.4,443.0 111.9,447.3 116.9,447.3" fill="none" stroke="#1e8a1e" stroke-width="1.1" stroke-linejoin="miter"/>
<polygon points="159.2,452.0 156.7,456.3 161.7,456.3" fill="none" stroke="#1e8a1e" stroke-width="1.1" stroke-linejoin="miter"/>
<polygon points="147.4,463.9 144.9,468.2 149.9,468.2" fill="none" stroke="#1e8a1e" stroke-width="1.1" stroke-linejoin="miter"/>
<polygon points="105.1,472.2 102.6,476.5 107.6,476.5" fill="none" stroke="#1e8a1e" stroke-width="1.1" stroke-linejoin="miter"/>
<polygon points="168.8,431.9 166.3,436.2 171.3,436.2" fill="#111"/>
<polygon points="199.0,438.7 196.5,443.0 201.5,443.0" fill="#111"/>
<polygon points="225.9,438.7 223.4,443.0 228.4,443.0" fill="#111"/>
<polygon points="205.3,446.3 202.8,450.6 207.8,450.6" fill="#111"/>
<polygon points="178.1,447.5 175.6,451.8 180.6,451.8" fill="#111"/>
<polygon points="228.4,426.6 225.9,430.9 230.9,430.9" fill="#111"/>
<polygon points="262.6,460.3 260.1,464.6 265.1,464.6" fill="#111"/>
<polygon points="196.5,427.8 194.0,432.1 199.0,432.1" fill="none" stroke="#222" stroke-width="1.1" stroke-linejoin="miter"/>
<polygon points="231.2,436.2 228.7,440.5 233.7,440.5" fill="none" stroke="#222" stroke-width="1.1" stroke-linejoin="miter"/>
<polygon points="193.2,462.1 190.7,466.4 195.7,466.4" fill="none" stroke="#222" stroke-width="1.1" stroke-linejoin="miter"/>
<polygon points="209.0,472.2 206.5,476.5 211.5,476.5" fill="none" stroke="#222" stroke-width="1.1" stroke-linejoin="miter"/>
<polygon points="180.1,475.9 177.6,480.2 182.6,480.2" fill="none" stroke="#222" stroke-width="1.1" stroke-linejoin="miter"/>
<polygon points="161.3,465.1 158.8,469.4 163.8,469.4" fill="none" stroke="#222" stroke-width="1.1" stroke-linejoin="miter"/>
<polygon points="163.8,499.8 161.3,504.1 166.3,504.1" fill="#1414c8"/>
<polygon points="183.9,509.1 181.4,513.4 186.4,513.4" fill="#1414c8"/>
<polygon points="209.0,500.3 206.5,504.6 211.5,504.6" fill="#1414c8"/>
<polygon points="215.3,478.9 212.8,483.2 217.8,483.2" fill="#1414c8"/>
<polygon points="227.9,483.2 225.4,487.5 230.4,487.5" fill="#1414c8"/>
<polygon points="230.4,473.9 227.9,478.2 232.9,478.2" fill="#1414c8"/>
<polygon points="227.4,492.3 224.9,496.6 229.9,496.6" fill="#1414c8"/>
<polygon points="291.9,463.4 289.4,467.7 294.4,467.7" fill="#1414c8"/>
<polygon points="258.2,493.3 255.7,497.6 260.7,497.6" fill="#1414c8"/>
<polygon points="164.2,499.6 161.7,503.9 166.7,503.9" fill="#1414c8"/>
<polygon points="257.3,372.4 254.8,376.7 259.8,376.7" fill="none" stroke="#1414c8" stroke-width="1.1" stroke-linejoin="miter"/>
<polygon points="282.3,431.7 279.8,436.0 284.8,436.0" fill="none" stroke="#1414c8" stroke-width="1.1" stroke-linejoin="miter"/>
<polygon points="170.6,419.5 168.1,423.8 173.1,423.8" fill="none" stroke="#1414c8" stroke-width="1.1" stroke-linejoin="miter"/>
<polygon points="121.0,480.7 118.5,485.0 123.5,485.0" fill="none" stroke="#1414c8" stroke-width="1.1" stroke-linejoin="miter"/>
<polygon points="161.7,476.9 159.2,481.2 164.2,481.2" fill="none" stroke="#1414c8" stroke-width="1.1" stroke-linejoin="miter"/>
<polygon points="88.8,511.1 86.3,515.4 91.3,515.4" fill="none" stroke="#1414c8" stroke-width="1.1" stroke-linejoin="miter"/>
<polygon points="162.5,476.4 160.0,480.7 165.0,480.7" fill="none" stroke="#1414c8" stroke-width="1.1" stroke-linejoin="miter"/>
<polygon points="187.2,487.7 184.7,492.0 189.7,492.0" fill="none" stroke="#1414c8" stroke-width="1.1" stroke-linejoin="miter"/>
<polygon points="197.2,501.6 194.7,505.9 199.7,505.9" fill="none" stroke="#1414c8" stroke-width="1.1" stroke-linejoin="miter"/>
<polygon points="227.9,477.2 225.4,481.5 230.4,481.5" fill="none" stroke="#1414c8" stroke-width="1.1" stroke-linejoin="miter"/>
<polygon points="229.1,494.8 226.6,499.1 231.6,499.1" fill="none" stroke="#1414c8" stroke-width="1.1" stroke-linejoin="miter"/>
<polygon points="245.5,461.4 243.0,465.7 248.0,465.7" fill="none" stroke="#1414c8" stroke-width="1.1" stroke-linejoin="miter"/>
<polygon points="282.5,432.0 280.0,436.3 285.0,436.3" fill="none" stroke="#1414c8" stroke-width="1.1" stroke-linejoin="miter"/>
<polygon points="269.9,459.7 267.4,464.0 272.4,464.0" fill="none" stroke="#1414c8" stroke-width="1.1" stroke-linejoin="miter"/>
<polygon points="254.2,465.0 251.7,469.3 256.7,469.3" fill="none" stroke="#1414c8" stroke-width="1.1" stroke-linejoin="miter"/>
<polygon points="269.9,471.9 267.4,476.2 272.4,476.2" fill="none" stroke="#1414c8" stroke-width="1.1" stroke-linejoin="miter"/>
<polygon points="315.5,471.3 313.0,475.6 318.0,475.6" fill="none" stroke="#1414c8" stroke-width="1.1" stroke-linejoin="miter"/>
<polygon points="293.5,482.3 291.0,486.6 296.0,486.6" fill="none" stroke="#1414c8" stroke-width="1.1" stroke-linejoin="miter"/>
<polygon points="263.6,486.1 261.1,490.4 266.1,490.4" fill="none" stroke="#1414c8" stroke-width="1.1" stroke-linejoin="miter"/>
<polygon points="264.5,491.1 262.0,495.4 267.0,495.4" fill="none" stroke="#1414c8" stroke-width="1.1" stroke-linejoin="miter"/>
<polygon points="265.8,504.4 263.3,508.7 268.3,508.7" fill="none" stroke="#1414c8" stroke-width="1.1" stroke-linejoin="miter"/>
<polygon points="249.6,470.7 247.1,475.0 252.1,475.0" fill="none" stroke="#1414c8" stroke-width="1.1" stroke-linejoin="miter"/>
<polygon points="236.7,422.0 234.2,426.3 239.2,426.3" fill="none" stroke="#a02ec8" stroke-width="1.1" stroke-linejoin="miter"/>
<polygon points="107.7,452.0 105.2,456.3 110.2,456.3" fill="#a02ec8"/>
<polygon points="226.6,469.6 224.1,473.9 229.1,473.9" fill="#a02ec8"/>
<polygon points="152.9,461.4 150.4,465.7 155.4,465.7" fill="#a02ec8"/>
<polygon points="101.9,401.4 99.4,405.7 104.4,405.7" fill="none" stroke="#d9a02c" stroke-width="1.1" stroke-linejoin="miter"/>
<polygon points="129.3,423.5 126.8,427.8 131.8,427.8" fill="#d9a02c"/>
<polygon points="124.8,443.7 122.3,448.0 127.3,448.0" fill="#d9a02c"/>
<polygon points="116.5,470.6 114.0,474.9 119.0,474.9" fill="#d9a02c"/>
<polygon points="161.0,443.0 158.5,447.3 163.5,447.3" fill="#d9a02c"/>
<text x="5.3" y="369.8" font-size="11" fill="#222" text-anchor="start" >C. 184004</text>
<rect x="279.7" y="355" width="68.2" height="47.1" fill="#fff" stroke="#777" stroke-width="1"/>
<line x1="314.0" y1="377.7" x2="303.7" y2="355.1" stroke="#555" stroke-width="0.7"/>
<line x1="314.0" y1="377.7" x2="329.4" y2="355.1" stroke="#555" stroke-width="0.7"/>
<line x1="314.0" y1="377.7" x2="347.9" y2="366.5" stroke="#555" stroke-width="0.7"/>
<line x1="314.0" y1="377.7" x2="347.9" y2="371.5" stroke="#555" stroke-width="0.7"/>
<line x1="314.0" y1="377.7" x2="280.0" y2="376.7" stroke="#555" stroke-width="0.7"/>
<line x1="314.0" y1="377.7" x2="280.0" y2="389.0" stroke="#555" stroke-width="0.7"/>
<line x1="314.0" y1="377.7" x2="309.9" y2="399.3" stroke="#555" stroke-width="0.7"/>
<line x1="314.0" y1="377.7" x2="332.5" y2="384.9" stroke="#555" stroke-width="0.7"/>
<line x1="314.0" y1="377.7" x2="347.9" y2="401.4" stroke="#555" stroke-width="0.7"/>
<text transform="translate(308.9,359.4) rotate(65)" font-size="7" fill="#333" text-anchor="middle" dy="2.2">P<tspan font-size="4.8" dy="1.2">l</tspan></text>
<text transform="translate(327.4,361.4) rotate(-60)" font-size="7" fill="#333" text-anchor="middle" dy="2.2">D<tspan font-size="4.8" dy="1.2">A</tspan></text>
<text transform="translate(338.8,364.3) rotate(-30)" font-size="7" fill="#333" text-anchor="middle" dy="2.2">P<tspan font-size="4.8" dy="1.2">s</tspan></text>
<text transform="translate(343.8,375.6) rotate(15)" font-size="7" fill="#333" text-anchor="middle" dy="2.2">P<tspan font-size="4.8" dy="1.2">l</tspan></text>
<text transform="translate(284.4,372.6) rotate(0)" font-size="7" fill="#333" text-anchor="middle" dy="2.2">P<tspan font-size="4.8" dy="1.2">L</tspan></text>
<text transform="translate(303.8,372.2) rotate(5)" font-size="7" fill="#333" text-anchor="middle" dy="2.2">P<tspan font-size="4.8" dy="1.2">br</tspan></text>
<text transform="translate(284.4,383.8) rotate(-15)" font-size="7" fill="#333" text-anchor="middle" dy="2.2">T<tspan font-size="4.8" dy="1.2">V</tspan></text>
<text transform="translate(305.8,395.2) rotate(-80)" font-size="7" fill="#333" text-anchor="middle" dy="2.2">d<tspan font-size="4.8" dy="1.2">A</tspan></text>
<text transform="translate(334.6,386.0) rotate(20)" font-size="7" fill="#333" text-anchor="middle" dy="2.2">P<tspan font-size="4.8" dy="1.2">f</tspan></text>
<text transform="translate(343.8,394.2) rotate(35)" font-size="7" fill="#333" text-anchor="middle" dy="2.2">P<tspan font-size="4.8" dy="1.2">t</tspan></text>
<line x1="0.9" y1="0" x2="0.9" y2="529" stroke="#999" stroke-width="1.8"/>
<line x1="0" y1="0.5" x2="350" y2="0.5" stroke="#888" stroke-width="1"/>
<line x1="349" y1="0" x2="349" y2="529" stroke="#999" stroke-width="2"/>
<line x1="0" y1="528.3" x2="350" y2="528.3" stroke="#666" stroke-width="1.2"/>
</svg>
</body></html>
